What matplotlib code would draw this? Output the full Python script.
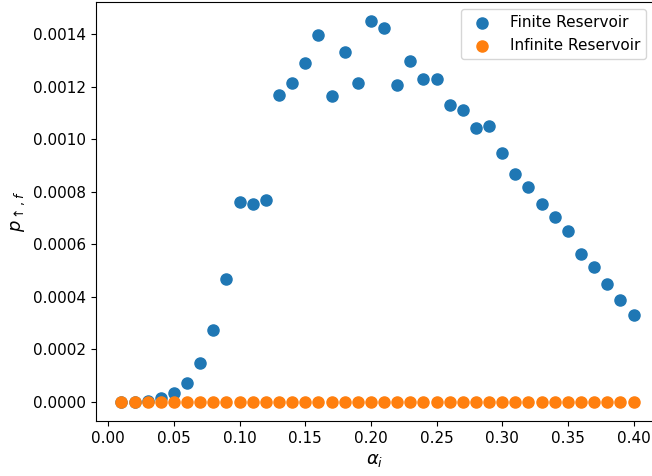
import matplotlib

matplotlib.use("Agg")
import matplotlib.pyplot as plt  # noqa: E402
import numpy as np  # noqa: E402

alpha = np.round(np.arange(1, 41) * 0.01, 2)
p_finite = [
    0.0, 0.0, 0.000002, 0.000014, 0.000033, 0.0000735, 0.00015, 0.000274,
    0.000469, 0.00076, 0.000753, 0.000767, 0.00117, 0.001216, 0.001291,
    0.001398, 0.001164, 0.001333, 0.001215, 0.001451, 0.001424, 0.001206,
    0.001297, 0.001229, 0.001229, 0.00113, 0.001112, 0.001041, 0.00105,
    0.000946, 0.000866, 0.000818, 0.000754, 0.000704, 0.000649, 0.000563,
    0.000514, 0.000448, 0.000388, 0.00033,
]
p_infinite = [0.0] * 40

plt.rcParams["font.size"] = 11

fig = plt.figure(figsize=(6.52, 4.76), dpi=100)
# the original is cropped on the right, so the axes run just past the edge
ax = fig.add_axes([0.1468, 0.1155, 1.0025 - 0.1468, 0.9964 - 0.1155])

ax.scatter(alpha, p_finite, s=64, label="Finite Reservoir")
ax.scatter(alpha, p_infinite, s=64, label="Infinite Reservoir")
ax.set_xlim(-0.0096, 0.4153)
ax.set_xlabel(r"$\alpha_i$", fontsize=13)
ax.set_ylabel(r"$p_{\uparrow,f}$", fontsize=13)
ax.set_xticks(np.arange(0, 0.41, 0.05))
ax.legend(loc="upper right")

fig.savefig("out.png")
